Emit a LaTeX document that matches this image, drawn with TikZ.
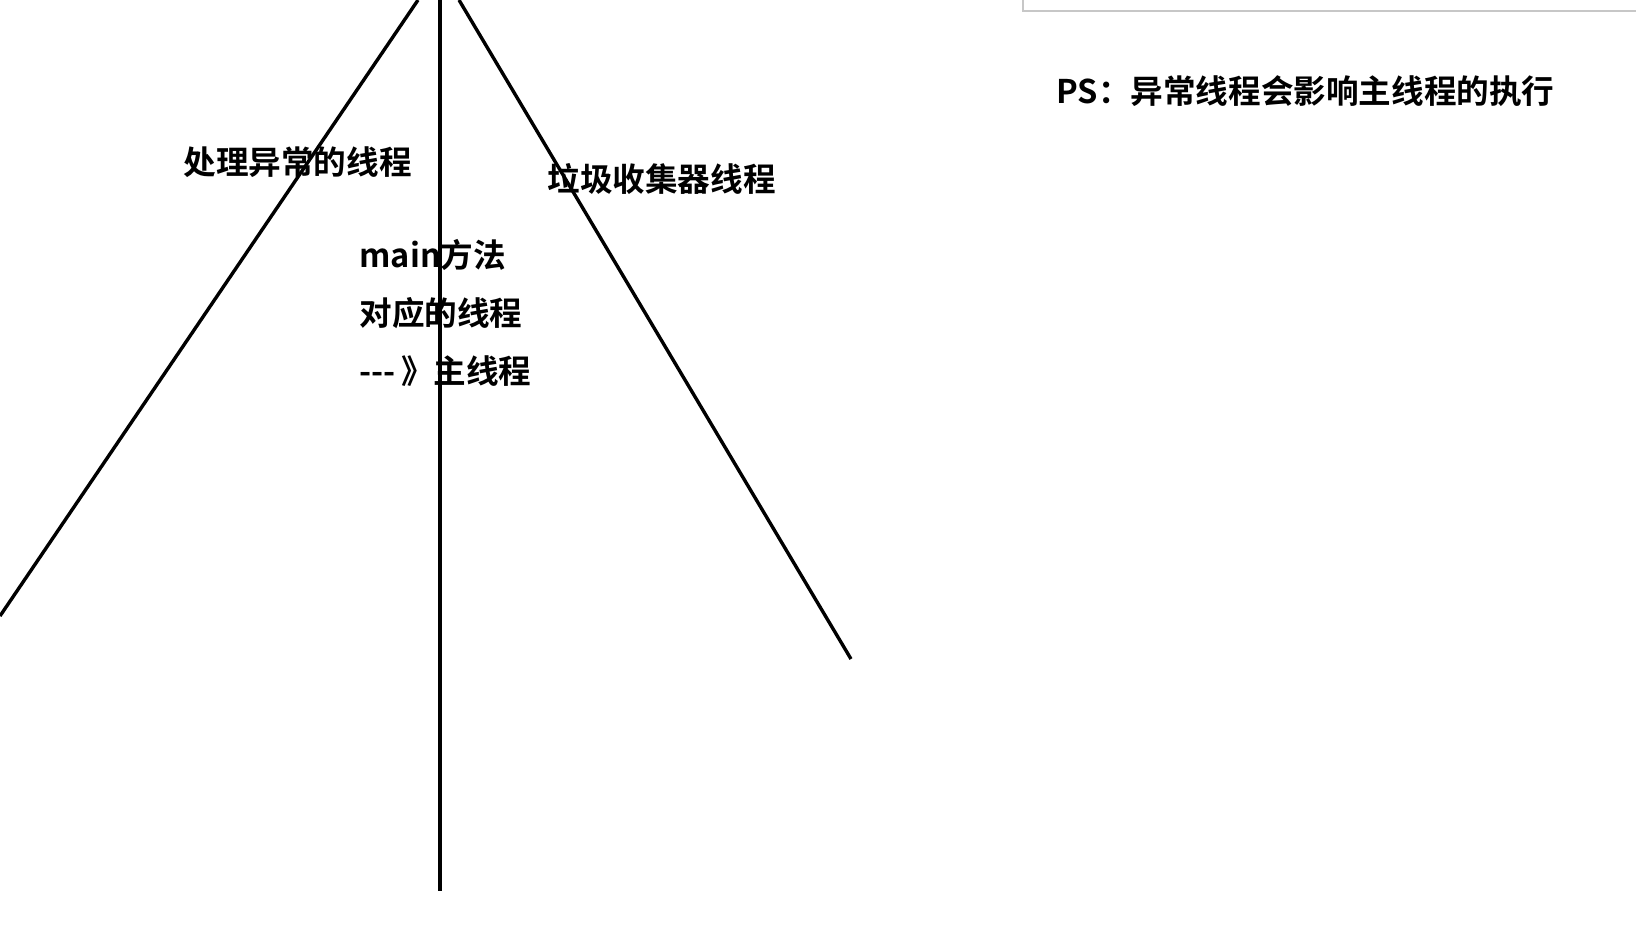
\documentclass[tikz,border=0pt]{standalone}
\usepackage{fontspec}
\newfontfamily\cjk{Noto Sans CJK SC}[BoldFont={* Bold}]
\begin{document}
\begin{tikzpicture}[x=0.5pt,y=-0.5pt,
  stroke/.style={line width=1.7pt,black},
  lbl/.style={anchor=west,inner sep=0pt,font=\cjk\bfseries\fontsize{16.3pt}{18pt}\selectfont}]
\useasboundingbox[fill=white] (0,0) rectangle (1636,934);
% light gray frame at top right
\draw[line width=0.6pt,black!22] (1023,0) -- (1023,11) -- (1636,11);
% lines
\coordinate (mt) at (440,0);
\coordinate (mb) at (440,891);
\coordinate (lt) at (418,0);
\coordinate (lb) at (0,616);
\coordinate (rt) at (459,0);
\coordinate (rb) at (851,659);
\draw[stroke,line width=2pt] (mt) -- (mb);
\draw[stroke] (lt) -- (lb);
\draw[stroke] (rt) -- (rb);
% labels
\node[lbl] (exc) at (183,162) {处理异常的线程};
\node[lbl] (gc) at (547,179) {垃圾收集器线程};
\node[lbl] (m1) at (359,255) {main方法};
\node[lbl] (m2) at (359,313) {对应的线程};
\node[lbl] (m3) at (359,371) {---\,》主线程};
\node[lbl] (ps) at (1056,91) {PS：异常线程会影响主线程的执行};
\end{tikzpicture}
\end{document}
